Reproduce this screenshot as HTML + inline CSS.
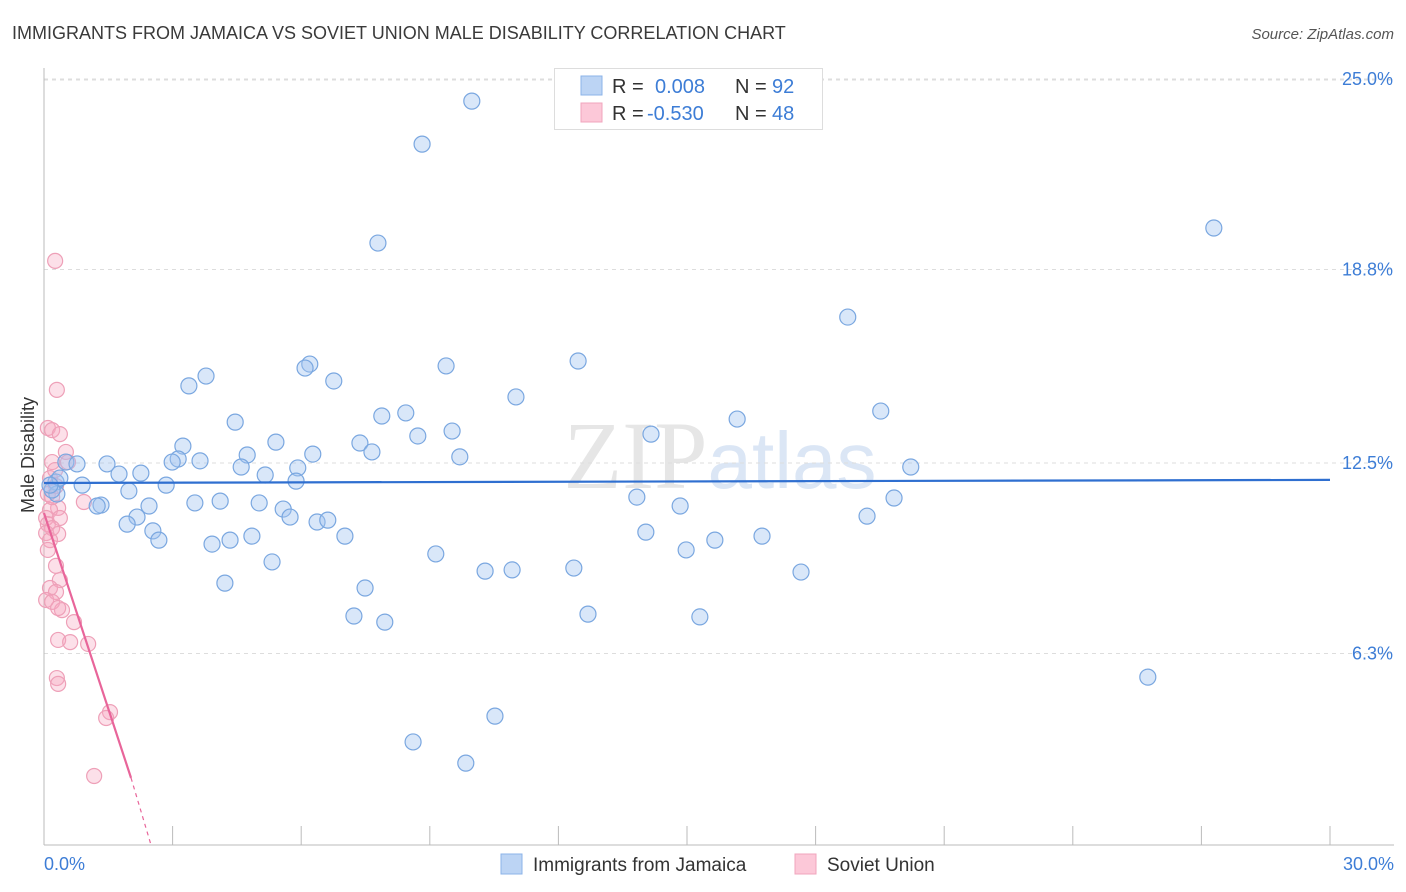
<!DOCTYPE html>
<html><head><meta charset="utf-8"><style>
body{margin:0;background:#fff;font-family:"Liberation Sans",sans-serif;}
svg{display:block}
</style></head><body>
<svg id="chart" width="1406" height="892" xmlns="http://www.w3.org/2000/svg">
<text x="12" y="39" font-size="18" fill="#3a3a3a">IMMIGRANTS FROM JAMAICA VS SOVIET UNION MALE DISABILITY CORRELATION CHART</text>
<text x="1394" y="39" font-size="15" fill="#555" font-style="italic" text-anchor="end">Source: ZipAtlas.com</text>
<text x="720" y="488" font-size="96" fill="#e6e6e6" text-anchor="middle" font-family="Liberation Serif,serif">ZIP<tspan fill="#dbe6f5" font-family="Liberation Sans,sans-serif" font-size="80">atlas</tspan></text>
<g id="grid"></g>
<g id="axes"></g>
<g id="marks"></g>
<text transform="translate(34,455) rotate(-90)" font-size="18" fill="#333" text-anchor="middle">Male Disability</text>
<text x="44" y="870" font-size="18" fill="#3d7dd6">0.0%</text>
<text x="1394" y="870" font-size="18" fill="#3d7dd6" text-anchor="end">30.0%</text>
<g>
<rect x="554.5" y="68.5" width="268" height="61" fill="#fff" stroke="#ddd"/>
<rect x="581" y="76" width="21" height="19" fill="#bcd4f4" stroke="#8bb3e8"/>
<rect x="581" y="103" width="21" height="19" fill="#fcc8d8" stroke="#f0a5bd"/>
<text x="612" y="93" font-size="20" fill="#333">R = </text><text x="655" y="93" font-size="20" fill="#3d7dd6">0.008</text>
<text x="735" y="93" font-size="20" fill="#333">N = </text><text x="772" y="93" font-size="20" fill="#3d7dd6">92</text>
<text x="612" y="120" font-size="20" fill="#333">R = </text><text x="647" y="120" font-size="20" fill="#3d7dd6">-0.530</text>
<text x="735" y="120" font-size="20" fill="#333">N = </text><text x="772" y="120" font-size="20" fill="#3d7dd6">48</text>
</g>
<g>
<rect x="501" y="854" width="21" height="20" fill="#bcd4f4" stroke="#8bb3e8"/>
<text x="533" y="871" font-size="19" fill="#333">Immigrants from Jamaica</text>
<rect x="795" y="854" width="21" height="20" fill="#fcc8d8" stroke="#f0a5bd"/>
<text x="827" y="871" font-size="19" fill="#333">Soviet Union</text>
</g>
</svg>
<script>
const yTicks=[6.3,12.5,18.8,25.0];
const yTickLabels=["6.3%","12.5%","18.8%","25.0%"];
const xTicks=[0,3,6,9,12,15,18,21,24,27,30];
const jamaicaX=[9.98,8.82,7.79,27.29,18.75,12.46,9.38,6.20,6.09,3.78,3.38,6.76,11.01,19.52,8.44,7.88,16.17,4.46,9.52,8.72,14.16,7.37,5.41,3.24,7.65,4.74,9.70,6.27,3.13,3.64,2.99,4.60,5.92,20.22,0.51,0.77,1.47,1.75,2.26,5.16,5.88,0.89,2.85,0.28,1.98,0.30,13.83,19.83,3.52,4.11,5.02,1.33,1.24,2.45,14.84,5.58,5.74,19.20,2.17,6.37,6.62,1.94,2.54,14.04,4.85,4.34,7.02,2.68,3.92,16.75,15.65,14.98,9.14,5.32,10.29,10.92,12.36,17.66,4.22,7.49,7.23,12.69,7.95,15.30,25.75,10.52,8.61,9.84,0.19,0.37,0.14];
const jamaicaY=[24.28,22.88,19.66,20.15,17.25,15.82,15.66,15.72,15.59,15.33,15.01,15.17,14.65,14.19,14.13,14.03,13.93,13.83,13.54,13.38,13.44,13.15,13.18,13.05,12.86,12.76,12.70,12.79,12.63,12.57,12.53,12.37,12.34,12.37,12.53,12.47,12.47,12.14,12.17,12.11,11.91,11.78,11.78,11.88,11.59,11.49,11.39,11.36,11.20,11.26,11.20,11.13,11.10,11.10,11.10,11.00,10.74,10.77,10.74,10.58,10.64,10.51,10.29,10.25,10.12,9.99,10.12,9.99,9.86,10.12,9.99,9.67,9.54,9.28,8.98,9.02,9.08,8.95,8.59,8.43,7.52,7.58,7.32,7.49,5.53,4.26,3.42,2.73,11.62,12.01,11.78];
const sovietX=[0.26,0.30,0.09,0.19,0.37,0.51,0.56,0.19,0.14,0.28,0.09,0.93,0.33,0.14,0.05,0.37,0.09,0.19,0.05,0.33,0.14,0.09,0.28,0.37,0.14,0.28,0.05,0.19,0.42,0.33,0.70,0.33,0.61,1.03,0.30,0.33,1.54,1.45,1.17,0.19,0.26];
const sovietY=[19.08,14.88,13.64,13.57,13.44,12.86,12.53,12.53,12.01,11.75,11.49,11.23,11.04,10.97,10.71,10.71,10.51,10.38,10.22,10.19,9.99,9.67,9.15,8.69,8.43,8.30,8.04,7.98,7.71,7.78,7.32,6.74,6.67,6.61,5.50,5.31,4.39,4.20,2.31,11.39,12.27];
const jamaicaTrend=[0,11.85,30,11.95];
const sovietTrend=[0,10.87,2.03,2.25,2.5,0.05];
const NS="http://www.w3.org/2000/svg";
const sx=v=>44+v*(1330-44)/30;
const sy=v=>847-v*30.72;
function mk(p,tag,a){const e=document.createElementNS(NS,tag);for(const k in a)e.setAttribute(k,a[k]);p.appendChild(e);return e;}
const grid=document.getElementById('grid'),axes=document.getElementById('axes'),marks=document.getElementById('marks');
yTicks.forEach((t,i)=>{
 const l=mk(grid,'line',{x1:44,x2:1394,y1:sy(t),y2:sy(t),stroke:'#ddd','stroke-dasharray':'4,4'});
 
 
 const tx=mk(axes,'text',{x:1393,y:sy(t)+6,'font-size':18,fill:'#3d7dd6','text-anchor':'end'});
 tx.textContent=yTickLabels[i];
 
 
});
const tg=mk(grid,'line',{x1:44,x2:1394,y1:80,y2:80,stroke:'#ddd','stroke-dasharray':'4,4'});


const ya=mk(axes,'line',{x1:44,x2:44,y1:68,y2:845,stroke:'#bbb'});


const xa=mk(axes,'line',{x1:44,x2:1394,y1:845,y2:845,stroke:'#bbb'});


xTicks.forEach(t=>{
 const l=mk(axes,'line',{x1:sx(t),x2:sx(t),y1:826,y2:845,stroke:'#bbb'});
 
 
});
sovietX.forEach((x,i)=>{
 const c=mk(marks,'circle',{cx:sx(x),cy:sy(sovietY[i]),r:7.5,fill:'rgba(245,165,192,0.35)',stroke:'#eea0b8','stroke-width':1.2});
 
 
});
jamaicaX.forEach((x,i)=>{
 const c=mk(marks,'circle',{cx:sx(x),cy:sy(jamaicaY[i]),r:8,fill:'rgba(160,195,240,0.4)',stroke:'#7aa7e0','stroke-width':1.2});
 
 
});
const jl=mk(marks,'line',{x1:sx(jamaicaTrend[0]),y1:sy(jamaicaTrend[1]),x2:sx(jamaicaTrend[2]),y2:sy(jamaicaTrend[3]),stroke:'#2f6fd0','stroke-width':2.2});


const sl=mk(marks,'line',{x1:sx(sovietTrend[0]),y1:sy(sovietTrend[1]),x2:sx(sovietTrend[2]),y2:sy(sovietTrend[3]),stroke:'#e8659a','stroke-width':2.2});


const sd=mk(marks,'line',{x1:sx(sovietTrend[2]),y1:sy(sovietTrend[3]),x2:sx(sovietTrend[4]),y2:sy(sovietTrend[5]),stroke:'#e8659a','stroke-width':1.2,'stroke-dasharray':'4,4'});


</script>
</body></html>
